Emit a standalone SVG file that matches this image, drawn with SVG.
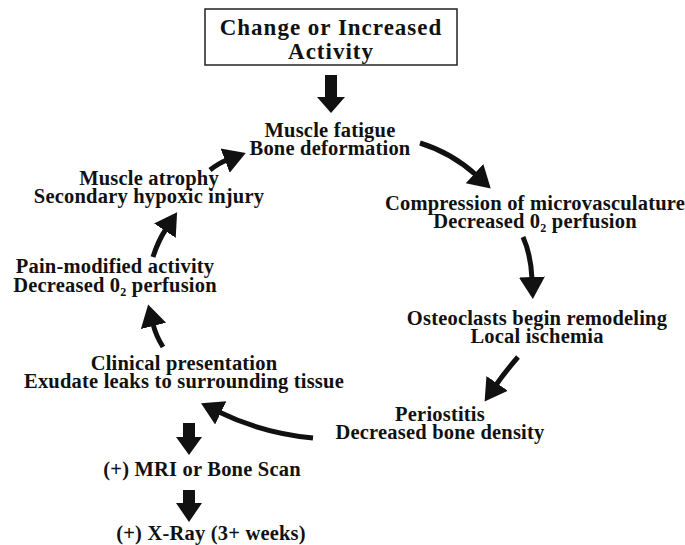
<svg xmlns="http://www.w3.org/2000/svg" width="685" height="545" viewBox="0 0 685 545">
<style>
text{font-family:"Liberation Serif","Times New Roman",serif;font-weight:bold;font-size:20.5px;letter-spacing:0.2px;fill:#111;text-anchor:middle}
.t{font-size:23px;letter-spacing:1px}
.sub{font-size:12px}
.c{fill:none;stroke:#111;stroke-width:5}
.blk{fill:#111}
</style>
<defs>
<marker id="ah" markerUnits="userSpaceOnUse" markerWidth="24" markerHeight="28" refX="2" refY="13" orient="auto" viewBox="0 0 24 26">
<path d="M0,0 L22,13 L0,26 Z" fill="#111"/>
</marker>
</defs>
<rect width="685" height="545" fill="#fff"/>

<g id="n-change">
<rect x="205" y="9" width="252" height="56" fill="#fff" stroke="#222" stroke-width="1.5"/>
<text class="t" x="331" y="35">Change or Increased</text>
<text class="t" x="331" y="59">Activity</text>
</g>

<g id="n-fatigue">
<text x="330" y="137">Muscle fatigue</text>
<text x="330" y="155">Bone deformation</text>
</g>

<g id="n-compression">
<text x="535" y="210">Compression of microvasculature</text>
<text x="535" y="228">Decreased 0<tspan class="sub" dy="4">2</tspan><tspan dy="-4"> perfusion</tspan></text>
</g>

<g id="n-osteoclasts">
<text x="537" y="325">Osteoclasts begin remodeling</text>
<text x="537" y="343">Local ischemia</text>
</g>

<g id="n-periostitis">
<text x="440" y="421">Periostitis</text>
<text x="440" y="439">Decreased bone density</text>
</g>

<g id="n-clinical">
<text x="184" y="370">Clinical presentation</text>
<text x="184" y="388">Exudate leaks to surrounding tissue</text>
</g>

<g id="n-pain">
<text x="115" y="273">Pain-modified activity</text>
<text x="115" y="292">Decreased 0<tspan class="sub" dy="4">2</tspan><tspan dy="-4"> perfusion</tspan></text>
</g>

<g id="n-atrophy">
<text x="149" y="185">Muscle atrophy</text>
<text x="149" y="203">Secondary hypoxic injury</text>
</g>

<g id="n-mri">
<text x="202" y="476">(+) MRI or Bone Scan</text>
</g>

<g id="n-xray">
<text x="211" y="540">(+) X-Ray (3+ weeks)</text>
</g>

<g id="connectors">
<polygon class="blk" points="325,75 337,75 337,97 345,97 331,113 317,97 325,97"/>
<polygon class="blk" points="183,423 195,423 195,437 202,437 189,455 176,437 183,437"/>
<polygon class="blk" points="183,490 195,490 195,503 202,503 189,522 176,503 183,503"/>
<path class="c" marker-end="url(#ah)" d="M420,143 Q452,153 476,175"/>
<path class="c" marker-end="url(#ah)" d="M523,237 Q531,255 532,279"/>
<path class="c" marker-end="url(#ah)" d="M518,357 Q505,372 496,385"/>
<path class="c" marker-end="url(#ah)" d="M313,438 Q262,433 219,412"/>
<path class="c" marker-end="url(#ah)" d="M163,347 Q156,336 153,324"/>
<path class="c" marker-end="url(#ah)" d="M153,257 Q158,241 166,229"/>
<path class="c" marker-end="url(#ah)" d="M210,170 Q219,163 227,160"/>
</g>
</svg>
